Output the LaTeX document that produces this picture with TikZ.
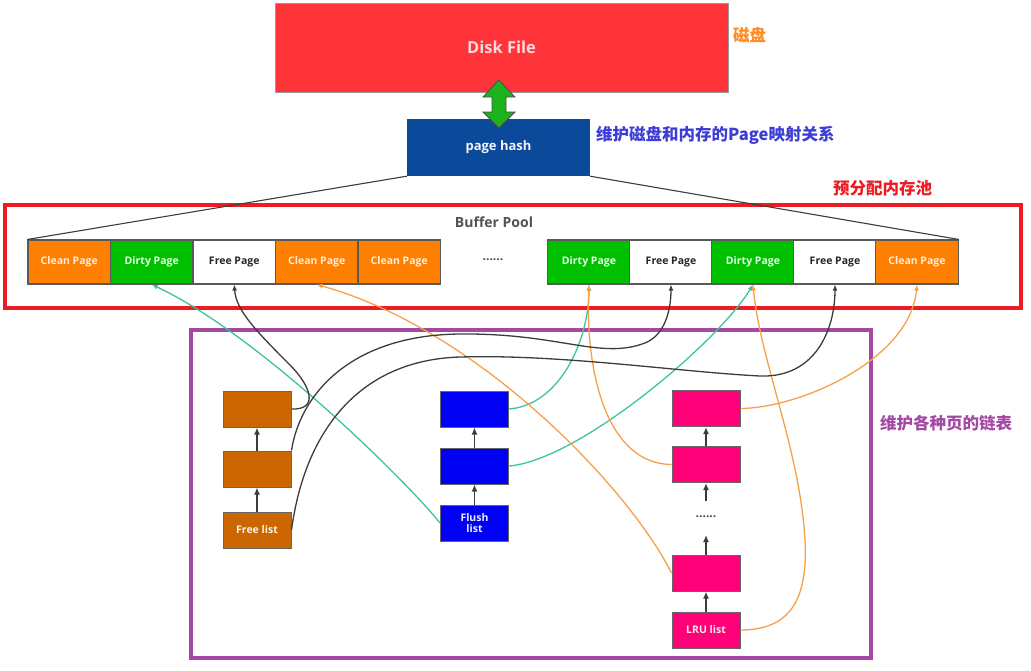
\documentclass[tikz,border=0pt]{standalone}
\usepackage{fontspec}
\setmainfont{Open Sans}
\newfontfamily\cjk{Noto Sans CJK SC}
\usetikzlibrary{arrows.meta}
\definecolor{diskred}{HTML}{FF343B}
\definecolor{hashblue}{HTML}{0B4A9A}
\definecolor{cleanor}{HTML}{FF8000}
\definecolor{dirtygr}{HTML}{00C000}
\definecolor{freebr}{HTML}{CC6600}
\definecolor{flushbl}{HTML}{0000F5}
\definecolor{lrupk}{HTML}{FF0078}
\definecolor{poolred}{HTML}{EC1C24}
\definecolor{listpur}{HTML}{A349A4}
\definecolor{labor}{HTML}{FF8A1E}
\definecolor{labbl}{HTML}{3C3CD6}
\definecolor{tealc}{HTML}{3CC49A}
\definecolor{orc}{HTML}{F7A04A}
\definecolor{darkc}{HTML}{3C3C3C}
\definecolor{arrgreen}{HTML}{1DB31D}
\tikzset{
  cell/.style={draw=black!65, line width=1.1pt, minimum width=82.5pt, minimum height=44pt, inner sep=0pt, font=\fontsize{10.5}{12}\selectfont\bfseries},
  clean/.style={cell, fill=cleanor, text=orange!15},
  dirty/.style={cell, fill=dirtygr, text=green!10},
  freep/.style={cell, fill=white, text=black!85},
  lbox/.style={draw=black!60, line width=1pt, minimum width=68pt, minimum height=36pt, inner sep=0pt, align=center, font=\fontsize{10.5}{11.5}\selectfont\bfseries, text=white},
  freebox/.style={lbox, fill=freebr, text=orange!10},
  flushbox/.style={lbox, fill=flushbl, text=blue!8},
  lrubox/.style={lbox, fill=lrupk, text=pink!40},
  larrow/.style={draw=darkc, line width=1.4pt, -{Latex[length=7pt,width=6pt]}},
  tealarr/.style={draw=tealc, line width=1.3pt, -{Latex[length=6pt,width=5pt]}},
  orarr/.style={draw=orc, line width=1.3pt, -{Latex[length=6pt,width=5pt]}},
  darkarr/.style={draw=darkc, line width=1.3pt, -{Latex[length=6pt,width=5pt]}},
  cjklab/.style={font=\cjk\bfseries\fontsize{16.5}{18}\selectfont, anchor=west, inner sep=0pt},
  dots/.style={font=\fontsize{12}{12}\selectfont\bfseries, text=black!70}
}
\begin{document}
\begin{tikzpicture}[x=1pt,y=-1pt]
\useasboundingbox (0,0) rectangle (1031,670);
% top
\node[draw=black!40, fill=diskred, minimum width=453pt, minimum height=89pt, inner sep=0pt, text=red!15, font=\fontsize{16.5}{18}\selectfont\bfseries] (disk) at (501.5,47.5) {Disk File};
\node[fill=hashblue, minimum width=183pt, minimum height=57pt, inner sep=0pt, text=blue!5, font=\fontsize{13}{15}\selectfont\bfseries] (hash) at (498.5,147.5) {page hash};
\filldraw[fill=arrgreen, draw=black!70, line width=0.8pt] (499,80) -- (515,97) -- (506,97) -- (506,112) -- (515,112) -- (499,128) -- (483,112) -- (492,112) -- (492,97) -- (483,97) -- cycle;
\node[cjklab, text=labor] (l1) at (733,35) {磁盘};
\node[cjklab, text=labbl] (l2) at (596,135) {维护磁盘和内存的Page映射关系};
\node[cjklab, text=poolred] (l3) at (833,188) {预分配内存池};
\node[cjklab, text=listpur] (l4) at (880,423) {维护各种页的链表};
% frames
\draw[poolred, line width=4pt] (5,204.5) rectangle (1021,308);
\draw[listpur, line width=4pt] (191,329.5) rectangle (871,658);
\node[font=\fontsize{14}{16}\selectfont\bfseries, text=black!68] (bp) at (494,222) {Buffer Pool};
% row 1
\node[clean] (a1) at (69.25,262) {Clean Page};
\node[dirty] (a2) at (151.75,262) {Dirty Page};
\node[freep] (a3) at (234.25,262) {Free Page};
\node[clean] (a4) at (316.75,262) {Clean Page};
\node[clean] (a5) at (399.25,262) {Clean Page};
\node[dots] (d1) at (493,260) {......};
% row 2
\node[dirty] (b1) at (589,262) {Dirty Page};
\node[freep] (b2) at (671,262) {Free Page};
\node[dirty] (b3) at (753,262) {Dirty Page};
\node[freep] (b4) at (835,262) {Free Page};
\node[clean] (b5) at (917,262) {Clean Page};
\draw[darkc, line width=1.1pt] (hash.south west) -- (a1.north west);
\draw[darkc, line width=1.1pt] (hash.south east) -- (b5.north east);
% free list
\node[freebox] (f1) at (257,409) {};
\node[freebox] (f2) at (257,469) {};
\node[freebox] (f3) at (257,530) {Free list};
\draw[larrow] (f3) -- (f2);
\draw[larrow] (f2) -- (f1);
% flush list
\node[flushbox] (u1) at (474.5,409) {};
\node[flushbox] (u2) at (474.5,466) {};
\node[flushbox] (u3) at (474.5,523) {Flush\\list};
\draw[larrow] (u3) -- (u2);
\draw[larrow] (u2) -- (u1);
% lru list
\node[lrubox] (r1) at (706,408.5) {};
\node[lrubox] (r2) at (706,464.5) {};
\node[dots] (rd) at (706,517) {......};
\node[lrubox] (r3) at (706,573) {};
\node[lrubox] (r4) at (706,630) {LRU list};
\coordinate (ra) at (706,501);
\coordinate (rb) at (706,535);
\draw[larrow] (r4) -- (r3);
\draw[larrow] (r3) -- (rb);
\draw[larrow] (ra) -- (r2);
\draw[larrow] (r2) -- (r1);
% connectors
\draw[tealarr] (u3.west) .. controls (410,485) and (260,335) .. (a2.south);
\draw[tealarr] (u1.east) .. controls (560,405) and (589,340) .. (b1.south);
\draw[tealarr] (u2.east) .. controls (580,460) and (720,340) .. (b3.south);
\draw[orarr] (r3.west) .. controls (630,490) and (480,330) .. (a4.south);
\draw[orarr] (r2.west) .. controls (610,464) and (585,380) .. (b1.south);
\draw[orarr] (r1.east) .. controls (800,408) and (910,360) .. (b5.south);
\draw[orarr] (r4.east) .. controls (790,630) and (808,600) .. (805,540) .. controls (800,450) and (760,360) .. (b3.south);
\draw[darkarr] (f1.east) .. controls (320,410) and (310,385) .. (290,365) .. controls (255,330) and (236,310) .. (a3.south);
\draw[darkarr] (f2.north east) .. controls (300,395) and (350,335) .. (460,334) .. controls (560,333) and (600,360) .. (645,343) .. controls (665,335) and (671,310) .. (b2.south);
\draw[darkarr] (f3.east) .. controls (305,430) and (360,360) .. (460,357) .. controls (560,354) and (680,372) .. (760,376) .. controls (815,378) and (835,330) .. (b4.south);
\end{tikzpicture}
\end{document}
